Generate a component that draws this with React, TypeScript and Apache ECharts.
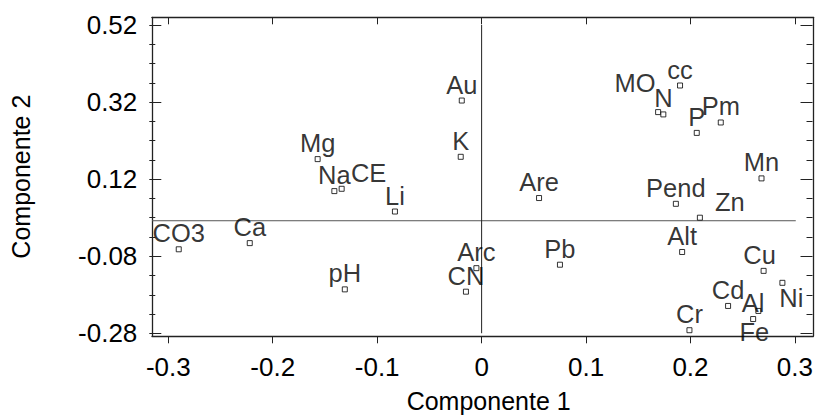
import React, { useEffect, useRef } from 'react';
import * as echarts from 'echarts';

// ---- data ----
const names = ['CO3', 'Ca', 'Mg', 'Na', 'CE', 'Li', 'pH', 'K', 'Au', 'CN', 'Arc', 'Are', 'Pb', 'MO', 'N', 'cc', 'P', 'Pm', 'Mn', 'Pend', 'Zn', 'Alt', 'Cu', 'Ni', 'Cd', 'Al', 'Fe', 'Cr'];
const comp1 = [-0.290, -0.222, -0.157, -0.141, -0.134, -0.083, -0.131, -0.020, -0.019, -0.015, -0.005, 0.055, 0.075, 0.169, 0.174, 0.190, 0.206, 0.229, 0.268, 0.186, 0.209, 0.192, 0.270, 0.288, 0.236, 0.260, 0.265, 0.199];
const comp2 = [-0.062, -0.046, 0.172, 0.089, 0.095, 0.036, -0.166, 0.178, 0.324, -0.172, -0.111, 0.071, -0.102, 0.294, 0.288, 0.363, 0.240, 0.267, 0.122, 0.056, 0.020, -0.069, -0.118, -0.149, -0.209, -0.243, -0.222, -0.272];

const xTickMin = -0.3;
const xTickMax = 0.3;
const xTickStep = 0.1;
const yTickMin = -0.28;
const yTickMax = 0.52;
const yTickStep = 0.2;

const xTitle = 'Componente 1';
const yTitle = 'Componente 2';

// ---- styling / layout ----
const FONT = '"Liberation Sans", Arial, Helvetica, sans-serif';
const FRAME = { left: 149.3, top: 17.3, right: 813.3, bottom: 343.3 };
const TICKBOX = { left: 168.3, top: 25, right: 795.7, bottom: 333.3 };

const labelNudge: Record<string, { pos?: string; dx?: number; dy?: number }> = {
  MO: { dx: -23, dy: -13 },
  CE: { dx: 27 },
  Zn: { dx: 30 },
  Cu: { dx: -4 },
  Ni: { pos: 'bottom', dx: 9, dy: -1 },
  Fe: { pos: 'bottom', dx: -4, dy: 5 },
};

export default function App() {
  const ref = useRef<HTMLDivElement>(null);

  useEffect(() => {
    if (!ref.current) return;
    const chart = echarts.init(ref.current, undefined, { renderer: 'svg' });

    const pxX = (TICKBOX.right - TICKBOX.left) / (xTickMax - xTickMin);
    const pxY = (TICKBOX.bottom - TICKBOX.top) / (yTickMax - yTickMin);
    const XMIN = xTickMin - (TICKBOX.left - FRAME.left) / pxX;
    const XMAX = xTickMax + (FRAME.right - TICKBOX.right) / pxX;
    const YMIN = yTickMin - (FRAME.bottom - TICKBOX.bottom) / pxY;
    const YMAX = yTickMax + (TICKBOX.top - FRAME.top) / pxY;

    const frameLine = { show: true, onZero: false, lineStyle: { color: '#222', width: 1.3 } };
    const frameAxisBase = {
      type: 'value' as const,
      gridIndex: 0,
      axisLine: frameLine,
      axisTick: { show: false },
      axisLabel: { show: false },
      splitLine: { show: false },
    };

    const tickStyle = { color: '#222', width: 1 };
    const hiddenLine = { show: false, onZero: false };
    const fmtX = (v: number) => (Math.abs(v) < 1e-9 ? '0' : v.toFixed(1));
    const fmtY = (v: number) => v.toFixed(2);

    const points = names.map((n, i) => {
      const nudge = labelNudge[n] || {};
      return {
        name: n,
        value: [comp1[i], comp2[i]],
        label: {
          position: nudge.pos || 'top',
          offset: [nudge.dx || 0, nudge.dy || 0],
        },
      };
    });

    chart.setOption({
      animation: false,
      backgroundColor: '#fff',
      textStyle: { fontFamily: FONT },
      grid: [
        {
          left: FRAME.left,
          top: FRAME.top,
          width: FRAME.right - FRAME.left,
          height: FRAME.bottom - FRAME.top,
          containLabel: false,
        },
        {
          left: TICKBOX.left,
          top: TICKBOX.top,
          width: TICKBOX.right - TICKBOX.left,
          height: TICKBOX.bottom - TICKBOX.top,
          containLabel: false,
        },
      ],
      xAxis: [
        {
          ...frameAxisBase,
          position: 'bottom',
          min: XMIN,
          max: XMAX,
          name: xTitle,
          nameLocation: 'middle',
          nameGap: 52,
          nameTextStyle: { fontSize: 25, color: '#000', fontFamily: FONT, padding: [0, 0, 0, 12] },
        },
        { ...frameAxisBase, position: 'top', min: XMIN, max: XMAX },
        {
          type: 'value',
          gridIndex: 1,
          position: 'bottom',
          offset: FRAME.bottom - TICKBOX.bottom,
          min: xTickMin,
          max: xTickMax,
          interval: xTickStep,
          axisLine: hiddenLine,
          axisTick: { show: true, inside: true, length: 7, lineStyle: tickStyle },
          axisLabel: { show: true, fontSize: 26, color: '#000', fontFamily: FONT, margin: 11, formatter: fmtX },
          splitLine: { show: false },
        },
        {
          type: 'value',
          gridIndex: 1,
          position: 'top',
          offset: TICKBOX.top - FRAME.top,
          min: xTickMin,
          max: xTickMax,
          interval: xTickStep,
          axisLine: hiddenLine,
          axisTick: { show: true, inside: true, length: 7, lineStyle: tickStyle },
          axisLabel: { show: false },
          splitLine: { show: false },
        },
      ],
      yAxis: [
        {
          ...frameAxisBase,
          position: 'left',
          min: YMIN,
          max: YMAX,
          name: yTitle,
          nameLocation: 'middle',
          nameGap: 119,
          nameTextStyle: { fontSize: 25, color: '#000', fontFamily: FONT },
        },
        { ...frameAxisBase, position: 'right', min: YMIN, max: YMAX },
        {
          type: 'value',
          gridIndex: 1,
          position: 'left',
          offset: TICKBOX.left - FRAME.left,
          min: yTickMin,
          max: yTickMax,
          interval: yTickStep,
          axisLine: hiddenLine,
          axisTick: { show: true, inside: true, length: 12, lineStyle: tickStyle },
          minorTick: { show: true, splitNumber: 4, length: 6, lineStyle: tickStyle },
          axisLabel: { show: true, fontSize: 26, color: '#000', fontFamily: FONT, margin: 12, formatter: fmtY },
          splitLine: { show: false },
          minorSplitLine: { show: false },
        },
        {
          type: 'value',
          gridIndex: 1,
          position: 'right',
          offset: FRAME.right - TICKBOX.right,
          min: yTickMin,
          max: yTickMax,
          interval: yTickStep,
          axisLine: hiddenLine,
          axisTick: { show: true, inside: true, length: 12, lineStyle: tickStyle },
          minorTick: { show: true, splitNumber: 4, length: 6, lineStyle: tickStyle },
          axisLabel: { show: false },
          splitLine: { show: false },
          minorSplitLine: { show: false },
        },
      ],
      series: [
        {
          type: 'line',
          xAxisIndex: 0,
          yAxisIndex: 0,
          data: [[XMIN, 0], [xTickMax, 0]],
          symbol: 'none',
          silent: true,
          lineStyle: { color: '#555', width: 1 },
          z: 1,
        },
        {
          type: 'line',
          xAxisIndex: 2,
          yAxisIndex: 2,
          data: [[0, yTickMin], [0, yTickMax]],
          symbol: 'none',
          silent: true,
          lineStyle: { color: '#222', width: 1 },
          z: 1,
        },
        {
          type: 'scatter',
          xAxisIndex: 2,
          yAxisIndex: 2,
          data: points,
          symbol: 'rect',
          symbolSize: 5,
          silent: true,
          z: 3,
          itemStyle: { color: '#fff', borderColor: '#000', borderWidth: 1 },
          label: {
            show: true,
            formatter: '{b}',
            position: 'top',
            distance: 0,
            fontSize: 25.5,
            color: '#000',
            fontFamily: FONT,
          },
          emphasis: { disabled: true },
        },
      ],
    });

    return () => chart.dispose();
  }, []);

  return (
    <div
      ref={ref}
      style={{ position: 'absolute', left: 0, top: 0, width: 816, height: 418, background: '#fff' }}
    />
  );
}
